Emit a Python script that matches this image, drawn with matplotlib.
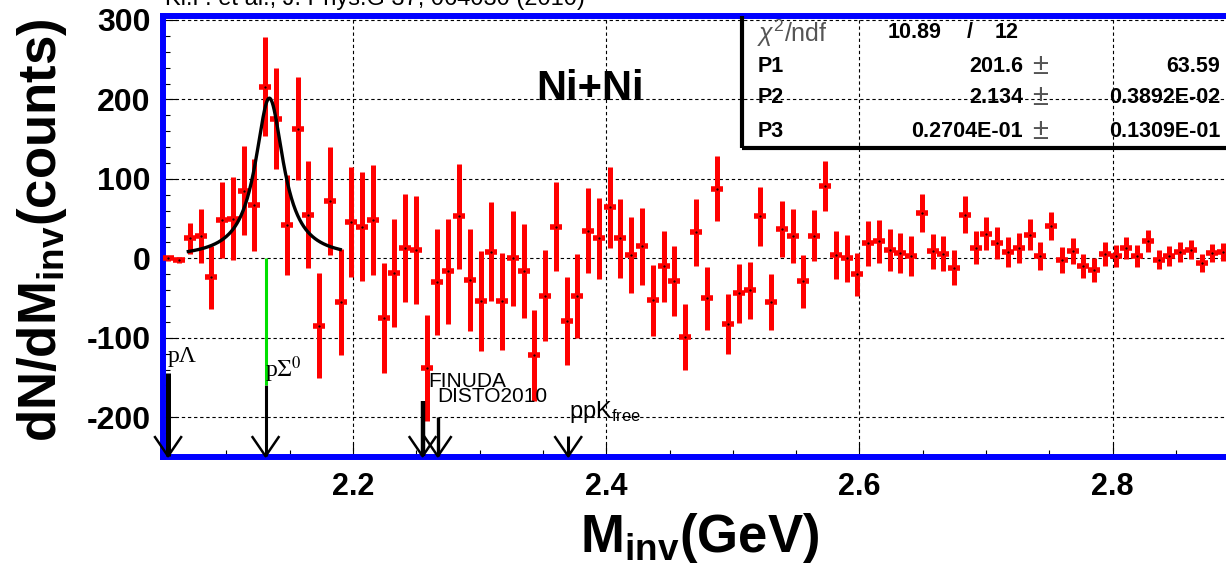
import numpy as np
import matplotlib.pyplot as plt
from matplotlib.patches import Rectangle
from matplotlib.ticker import MultipleLocator

plt.rcParams['font.family'] = ['Liberation Sans', 'DejaVu Sans']
plt.rcParams['mathtext.fontset'] = 'custom'
plt.rcParams['mathtext.rm'] = 'Liberation Sans'
plt.rcParams['mathtext.it'] = 'Liberation Sans:italic'
plt.rcParams['mathtext.bf'] = 'Liberation Sans:bold'
plt.rcParams['axes.unicode_minus'] = False

# ---- histogram: 100 bins of 8.5 MeV starting at 2.05 GeV (last bin off canvas)
bin_lo = 2.05
bin_width = 0.0085
counts = [0, -2, 25, 28, -24, 48, 50, 85, 67, 216,
          176, 42, 163, 55, -85, 72, -55, 46, 40, 48,
          -75, -19, 13.5, 11, -138, -30, -16, 53, -27, -54,
          8.5, -54, 0, -16, -122, -47, 40, -79, -47, 35,
          25, 64, 25, 4, 15, -53, -10, -29, -99, 33,
          -50.5, 87.5, -83, -44, -40, 53, -55, 37, 28, -29,
          28.5, 91, 4, 0, -20, 19, 21.5, 10.5, 7, 3,
          57.5, 9, 6, -12, 55, 13.5, 31, 19, 8, 13.5,
          30, 2.5, 41, -2, 9, -10, -15, 5.5, 2.5, 13.5,
          3, 22, -2, 2.5, 8, 11, -5.5, 7, 8]
errors = [3, 4, 19, 34, 40, 48, 52, 56, 58, 62,
          63, 63, 65, 67, 66, 68, 67, 69, 69, 69,
          69, 68, 68, 68, 67, 67, 66, 66, 64, 63,
          62, 61, 60, 59, 57, 57, 56, 55, 53, 53,
          51, 51, 50, 48, 48, 45, 45, 44, 42, 42,
          40, 41, 38, 37, 36, 37, 35, 35, 34, 33,
          32, 32, 30, 30, 27, 28, 27, 26, 25, 25,
          24, 22, 22, 22, 23, 21, 21, 20, 19.5, 19,
          19, 17.5, 17.5, 16, 16, 15, 15, 15, 14, 14,
          13.5, 14, 12, 12.5, 12, 12, 11.5, 11, 11]

# ---- fit result (Lorentzian: P1 height, P2 mass, P3 width)
chi2, ndf = 10.89, 12
p1, p1_err = 201.6, 63.59
p2, p2_err = 2.134, 0.3892e-02
p3, p3_err = 0.2704e-01, 0.1309e-01
fit_lo, fit_hi = 2.07, 2.19

# ---- thresholds / predicted masses (GeV) and where their arrows start
mark_names = ['pΛ', 'pΣ0', 'FINUDA', 'DISTO2010', 'ppKfree']
mark_mass = [2.054, 2.131, 2.255, 2.267, 2.370]
mark_top = [-144, -160, -180, -200, -223]
mark_lw = [3.6, 2.2, 3.2, 2.4, 2.2]

x = bin_lo + bin_width * (np.arange(len(counts)) + 0.5)
y = np.array(counts)
e = np.array(errors)

fig = plt.figure(figsize=(12.26, 5.66), dpi=100)
ax = fig.add_axes([0.13295, 0.19258, 0.87798, 0.77915])
ax.set_xlim(2.05, 2.9)
ax.set_ylim(-250, 305)

ax.grid(True, which='major', color='black', linestyle=(0, (3, 2.5)), linewidth=0.8, zorder=0)
ax.set_axisbelow(True)

# data points
ax.errorbar(x, y, yerr=e, fmt='none', ecolor='#ff0000', elinewidth=3.6, capsize=0, zorder=3)
ax.plot(x, y, linestyle='none', marker='_', ms=8, mew=4, color='#ff0000', zorder=3)
ax.plot(x, y, linestyle='none', marker='.', ms=1.2, color='black', zorder=4)

# fitted peak
xf = np.linspace(fit_lo, fit_hi, 300)
half = p3 / 2
yf = p1 * half**2 / ((xf - p2)**2 + half**2)
ax.plot(xf, yf, color='black', lw=2.4, zorder=5)

# arrows
head_dx, head_dy = 0.0103, 24
y_tip = -249
for name, m, top, lw in zip(mark_names, mark_mass, mark_top, mark_lw):
    ax.plot([m, m], [top, y_tip], color='black', lw=lw, zorder=6, solid_capstyle='butt', clip_on=False)
    ax.plot([m - head_dx, m, m + head_dx], [y_tip + head_dy, y_tip, y_tip + head_dy],
            color='black', lw=1.8, zorder=6, clip_on=False)
# green segment of the pSigma0 line
ax.plot([mark_mass[1], mark_mass[1]], [0, mark_top[1]], color='#00e000', lw=2.2, zorder=6,
        solid_capstyle='butt')

ax.text(2.0535, -131, 'pΛ', family='Liberation Serif', fontsize=17, va='baseline', ha='left', zorder=7)
ax.text(2.1305, -150, r'p$\Sigma^{0}$', family='Liberation Serif', math_fontfamily='stix',
        fontsize=17, va='baseline', ha='left', zorder=7)
ax.text(2.2595, -161.5, 'FINUDA', fontsize=15, va='baseline', ha='left', zorder=7)
ax.text(2.2663, -180.5, 'DISTO2010', fontsize=15, va='baseline', ha='left', zorder=7)
ax.text(2.3709, -201.5, r'ppK$_{\mathrm{free}}$', fontsize=17, va='baseline', ha='left', zorder=7)

ax.text(2.3876, 199, 'Ni+Ni', fontsize=30, fontweight='bold', ha='center', va='baseline', zorder=7)

# fit statistics box
ax.add_patch(Rectangle((2.5075, 138.8), 0.6, 200, fill=False, lw=3, ec='black', zorder=5))
ax.text(2.5192, 283.7, r'$\chi^{2}$/ndf', fontsize=18, color='#555555', va='center', ha='left', zorder=7)
ax.text(2.622, 283.7, f'{chi2:.2f}', fontsize=15.5, fontweight='bold', va='center', ha='left', zorder=7)
ax.text(2.687, 283.7, '/', fontsize=15.5, fontweight='bold', va='center', ha='center', zorder=7)
ax.text(2.7071, 283.7, f'{ndf}', fontsize=15.5, fontweight='bold', va='center', ha='left', zorder=7)
rows = [('P1', f'{p1:.1f}', f'{p1_err:.2f}'),
        ('P2', f'{p2:.3f}', '0.3892E-02'),
        ('P3', '0.2704E-01', '0.1309E-01')]
for (lab, val, err), yr in zip(rows, [242, 203, 160]):
    ax.text(2.5192, yr, lab, fontsize=15.5, fontweight='bold', va='center', ha='left', zorder=7)
    ax.text(2.7293, yr, val, fontsize=15.5, fontweight='bold', va='center', ha='right', zorder=7)
    ax.text(2.7427, yr, '±', fontsize=21, color='#555555', va='center', ha='center', zorder=7)
    ax.text(2.8849, yr, err, fontsize=15.5, fontweight='bold', va='center', ha='right', zorder=7)

# axes cosmetics
for side in ['left', 'bottom', 'top']:
    ax.spines[side].set_color('#0000ff')
    ax.spines[side].set_linewidth(4.3)
ax.spines['right'].set_visible(False)
ax.xaxis.set_major_locator(MultipleLocator(0.2))
ax.xaxis.set_minor_locator(MultipleLocator(0.05))
ax.yaxis.set_major_locator(MultipleLocator(100))
ax.yaxis.set_minor_locator(MultipleLocator(20))
ax.tick_params(which='both', direction='in', color='black', width=0.8, top=False, right=False)
ax.tick_params(which='major', length=10)
ax.tick_params(which='minor', length=5)
ax.tick_params(axis='y', labelsize=23, pad=9)
ax.tick_params(axis='x', labelsize=22, pad=11)
for lbl in ax.get_xticklabels() + ax.get_yticklabels():
    lbl.set_fontweight('bold')

fig.text(42 / 1226, 1 - 230 / 566, r'dN/dM$_{\mathbf{inv}}$(counts)', rotation=90,
         fontsize=38, fontweight='bold', ha='center', va='center')
fig.text(700 / 1226, 1 - 552 / 566, r'M$_{\mathbf{inv}}$(GeV)', fontsize=38,
         fontweight='bold', ha='center', va='baseline')
fig.text(165 / 1226, 1 - 5 / 566, 'Ki.P. et al., J. Phys.G 37, 064030 (2010)', fontsize=17,
         ha='left', va='baseline')

fig.savefig('out.png', dpi=100)
